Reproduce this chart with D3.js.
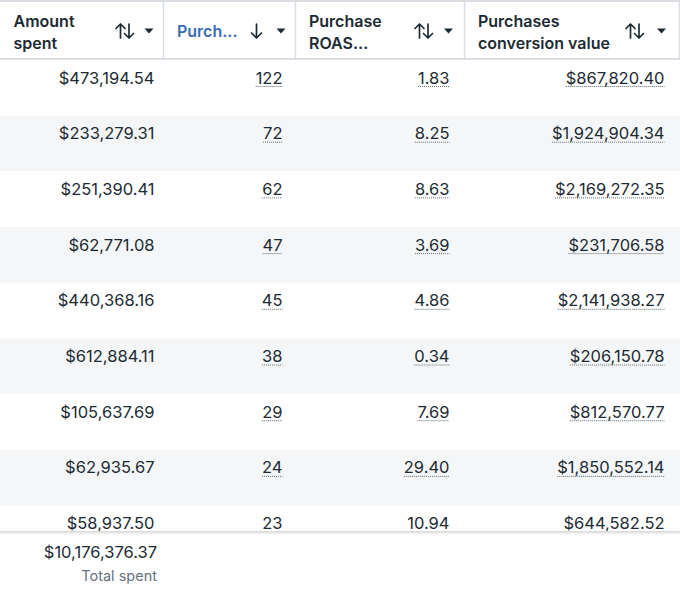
<!DOCTYPE html>
<html>
<head>
<meta charset="utf-8">
<script src="https://cdn.jsdelivr.net/npm/d3@7"></script>
<style>
  html, body { margin: 0; padding: 0; background: #fff; }
  svg { display: block; font-family: Inter, "Noto Sans", sans-serif; }
</style>
</head>
<body>
<svg id="chart" width="680" height="597"></svg>
<script>
// Column headings (split over lines as shown)
const headers = [["Amount", "spent"], ["Purch..."], ["Purchase", "ROAS..."], ["Purchases", "conversion value"]];
const sortedCol = 1; // the column the table is sorted by

// Row values
const amountSpent = [473194.54, 233279.31, 251390.41, 62771.08, 440368.16, 612884.11, 105637.69, 62935.67, 58937.50];
const purchases = [122, 72, 62, 47, 45, 38, 29, 24, 23];
const roas = [1.83, 8.25, 8.63, 3.69, 4.86, 0.34, 7.69, 29.40, 10.94];
const convValue = [867820.40, 1924904.34, 2169272.35, 231706.58, 2141938.27, 206150.78, 812570.77, 1850552.14, 644582.52];
const totalSpent = 10176376.37;
const totalLabel = "Total spent";

const W = 680, H = 597;
const headH = 60, rowH = 55.7, footY = 531;
const colEdges = [0, 163.5, 295.5, 464.5, 679.5];
const textPad = [9, 13, 15, 15];

const money = d3.format("$,.2f");
const cols = [
  { vals: amountSpent, fmt: money, dotted: false },
  { vals: purchases, fmt: d3.format(","), dotted: true },
  { vals: roas, fmt: d3.format(".2f"), dotted: true },
  { vals: convValue, fmt: money, dotted: true }
];

const svg = d3.select("#chart");
const y = d3.scaleLinear().domain([0, 1]).range([headH, headH + rowH]);

// body rows (striped)
const body = svg.append("g");
body.selectAll("rect.stripe")
  .data(d3.range(amountSpent.length))
  .join("rect")
  .attr("x", 0)
  .attr("y", i => y(i))
  .attr("width", W)
  .attr("height", rowH)
  .attr("fill", i => i % 2 ? "#f5f6f7" : "#fff");

cols.forEach((c, ci) => {
  const xr = colEdges[ci + 1] - textPad[ci];
  const g = body.append("g");
  const t = g.selectAll("text")
    .data(c.vals)
    .join("text")
    .attr("x", xr)
    .attr("y", (d, i) => y(i) + 23.5)
    .attr("text-anchor", "end")
    .attr("font-size", 16.5)
    .attr("fill", "#1c2b33")
    .text(d => c.fmt(d));
  if (c.dotted) {
    t.each(function (d, i) {
      const w = this.getComputedTextLength();
      g.append("line")
        .attr("x1", xr - w).attr("x2", xr)
        .attr("y1", y(i) + 26.5).attr("y2", y(i) + 26.5)
        .attr("stroke", "#5d6b78")
        .attr("stroke-width", 1)
        .attr("stroke-dasharray", "1,1");
    });
  }
});

// header
const head = svg.append("g");
head.append("rect").attr("x", 0).attr("y", 0).attr("width", W).attr("height", headH).attr("fill", "#fff");
head.append("line").attr("x1", 0).attr("x2", W).attr("y1", 1).attr("y2", 1).attr("stroke", "#dadde1").attr("stroke-width", 2);
head.append("line").attr("x1", 0).attr("x2", W).attr("y1", headH - 1).attr("y2", headH - 1).attr("stroke", "#dadde1").attr("stroke-width", 2);
colEdges.slice(1).forEach(x => {
  head.append("line").attr("x1", x).attr("x2", x).attr("y1", 2).attr("y2", headH - 2)
    .attr("stroke", "#dadde1").attr("stroke-width", 1.5);
});

headers.forEach((lines, ci) => {
  const x0 = colEdges[ci] + 13.5;
  const xr = colEdges[ci + 1];
  const sorted = ci === sortedCol;
  const t = head.append("text")
    .attr("x", x0)
    .attr("font-size", 16)
    .attr("font-weight", 600)
    .attr("fill", sorted ? "#3b6db4" : "#1c2b33");
  const base = lines.length === 1 ? 37 : 26.5;
  lines.forEach((ln, li) => {
    t.append("tspan").attr("x", x0).attr("y", base + li * 22).text(ln);
  });

  // sort arrows
  const ag = head.append("g")
    .attr("fill", "none")
    .attr("stroke", "#1c2b33")
    .attr("stroke-width", 1.7)
    .attr("stroke-linecap", "round")
    .attr("stroke-linejoin", "round");
  const ax = xr - (ci === 0 ? 30 : ci === 1 ? 33 : ci === 2 ? 32 : 36);
  if (sorted) {
    ag.append("path").attr("d", `M${ax - 6},24 V38 M${ax - 11},33 L${ax - 6},38 L${ax - 1},33`);
  } else {
    ag.append("path").attr("d", `M${ax - 13},38 V24 M${ax - 17.5},28.5 L${ax - 13},24 L${ax - 8.5},28.5`);
    ag.append("path").attr("d", `M${ax - 4.5},24 V38 M${ax - 9},33.5 L${ax - 4.5},38 L${ax},33.5`);
  }
  // dropdown caret
  const cx = xr - (ci < 2 ? 14.5 : ci === 2 ? 16 : 18);
  head.append("path")
    .attr("d", `M${cx - 4.5},28.5 L${cx + 4.5},28.5 L${cx},33.5 Z`)
    .attr("fill", "#1c2b33");
});

// footer with total
const defs = svg.append("defs");
const grad = defs.append("linearGradient").attr("id", "shade").attr("x1", 0).attr("x2", 0).attr("y1", 0).attr("y2", 1);
grad.append("stop").attr("offset", 0).attr("stop-color", "#000").attr("stop-opacity", 0.16);
grad.append("stop").attr("offset", 1).attr("stop-color", "#000").attr("stop-opacity", 0);

const foot = svg.append("g");
foot.append("rect").attr("x", 0).attr("y", footY).attr("width", W).attr("height", H - footY).attr("fill", "#fff");
foot.append("rect").attr("x", 0).attr("y", footY).attr("width", W).attr("height", 4).attr("fill", "url(#shade)");
foot.append("text")
  .attr("x", 157).attr("y", 557.5)
  .attr("text-anchor", "end")
  .attr("font-size", 16.5)
  .attr("fill", "#1c2b33")
  .text(money(totalSpent));
foot.append("text")
  .attr("x", 157).attr("y", 580.5)
  .attr("text-anchor", "end")
  .attr("font-size", 14.5)
  .attr("fill", "#67737f")
  .text(totalLabel);
</script>
</body>
</html>
